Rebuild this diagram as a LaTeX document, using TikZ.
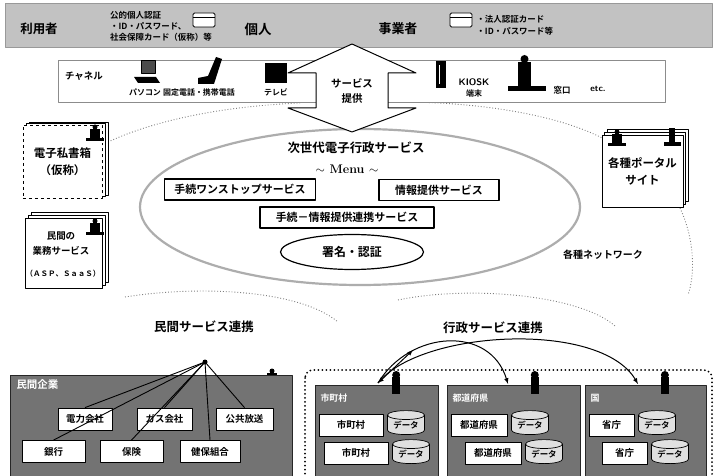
\documentclass[tikz,border=0pt]{standalone}
\usepackage{fontspec}
\newfontfamily\jp{Noto Sans CJK JP}[BoldFont={* Bold}]
\usetikzlibrary{shapes.geometric}

% bold Japanese at a given size / baselineskip
\newcommand{\jpsz}[2]{\jp\bfseries\fontsize{#1}{#2}\selectfont}

\begin{document}
\begin{tikzpicture}[x=1bp, y=-1bp, >=latex, line join=round,
  band/.style={fill=black!24, draw=black!40},
  menubox/.style={draw, line width=1.2pt, fill=white, font=\jpsz{11}{12}, minimum height=21bp, inner sep=2pt},
  unitbox/.style={draw, line width=0.8pt, fill=white, font=\jpsz{9.5}{10}, minimum height=22bp, inner sep=1pt},
  darkbox/.style={fill=black!55, draw=black!85, line width=0.8pt, inner sep=0pt},
  db/.style={cylinder, shape border rotate=90, aspect=0.35, draw, line width=0.7pt, fill=black!12,
    minimum width=37bp, minimum height=24bp, inner sep=0pt, font=\jpsz{8.5}{9}},
  net/.style={draw=black!50, dotted, line width=0.9pt},
  card/.style={draw, fill=white, line width=0.9pt, rounded corners=1.5bp, minimum width=22bp,
    minimum height=14bp, inner sep=0pt,
    path picture={\draw[line width=0.7pt] ([yshift=-4bp]path picture bounding box.north west)
      -- ([yshift=-4bp]path picture bounding box.north east);}},
  sheet/.style={draw, fill=white, line width=0.7pt}]

  \useasboundingbox (0,0) rectangle (718,476);
  \fill[white] (0,0) rectangle (718,476);

  % network area behind everything
  \draw[draw=black!32, line width=2.2pt] (360,207) ellipse [x radius=220, y radius=78];
  \draw[net] (108,142) .. controls (160,118) and (230,106) .. (300,103);
  \draw[net] (400,102) .. controls (480,102) and (560,115) .. (606,140);
  \draw[net] (680,208) .. controls (695,240) and (695,275) .. (688,295);
  \draw[net] (125,297) .. controls (200,285) and (300,290) .. (338,322);
  \draw[net] (398,300) .. controls (470,285) and (580,295) .. (615,326);

  % users band
  \draw[band] (5,3) rectangle (712,47);
  \node[font=\jpsz{12.5}{14}] (user) at (39,29) {利用者};
  \node[font=\jpsz{8.5}{11}, align=left] (idind) at (161,26) {公的個人認証\\・ID・パスワード、\\社会保障カード（仮称）等};
  \node[card] (cardA) at (204,20) {};
  \node[font=\jpsz{13.5}{14}] (kojin) at (258,29) {個人};
  \node[font=\jpsz{13}{14}] (jigyo) at (398,29) {事業者};
  \node[card] (cardB) at (461,20) {};
  \node[font=\jpsz{8.5}{12}, align=left, anchor=west] (idcorp) at (473,25) {・法人認証カード\\・ID・パスワード等};

  % channels
  \draw[draw=black!45, fill=white, line width=0.8pt] (58,60) rectangle (665,102);
  \node[font=\jpsz{9.5}{10}] (chan) at (84,76) {チャネル};
  \draw[line width=0.8pt, fill=black!70] (141,60) rectangle (155,73);
  \fill (134,77) -- (156,77) -- (160,83) -- (138,83) -- cycle;
  \node[font=\jpsz{8}{9}] (pc) at (145,92) {パソコン};
  \fill (198,84) -- (214,84) -- (222,59) -- (216,57) -- (208,76) -- (198,78) -- cycle;
  \node[font=\jpsz{8}{9}] (tel) at (199,92) {固定電話・携帯電話};
  \fill (265,63) rectangle (287,83);
  \node[font=\jpsz{8}{9}] (tv) at (276,92) {テレビ};
  \fill (436,61) rectangle (446,88);
  \draw[white, line width=0.8pt] (439,65) -- (439,84);
  \node[font=\sffamily\bfseries\fontsize{9.5}{10}\selectfont, inner sep=0pt] (kiosk) at (474,82) {KIOSK};
  \node[font=\jpsz{8}{8}] (kiosk2) at (474,93) {端末};
  \fill (518,62) rectangle (531,88);
  \fill (524.5,59) circle (4);
  \fill (508,86) rectangle (546,91);
  \node[font=\jpsz{8.5}{9}] (window) at (562,90) {窓口};
  \node[font=\sffamily\bfseries\fontsize{9}{9}\selectfont] (etc) at (598,89) {etc.};

  % service delivery arrow
  \draw[fill=white, line width=1pt] (352,44) -- (416,73) -- (388,73) -- (388,108) -- (416,108)
    -- (352,132) -- (288,108) -- (316,108) -- (316,73) -- (288,73) -- cycle;
  \node[font=\jpsz{10.5}{16}, align=center] (serv) at (352,91) {サービス\\提供};

  % menu of the next generation services
  \node[font=\jpsz{12.5}{13}] (title) at (356,148) {次世代電子行政サービス};
  \node[font=\bfseries\fontsize{12.5}{13}\selectfont] (menu) at (347,169) {$\sim$ Menu $\sim$};
  \node[menubox, minimum width=151bp] (onestop) at (240,189.5) {手続ワンストップサービス};
  \node[menubox, minimum width=120bp] (info) at (439,190) {情報提供サービス};
  \node[menubox, minimum width=174bp] (link) at (347,217.5) {手続－情報提供連携サービス};
  \node[ellipse, draw, line width=1.2pt, fill=white, minimum width=143bp, minimum height=35bp,
    font=\jpsz{12}{13}] (sign) at (352,252) {署名・認証};
  \node[font=\jpsz{10}{11}] (nets) at (603,255) {各種ネットワーク};

  % stacked sheets on both sides
  \foreach \d in {3,1.5} \draw[sheet] (23+2*\d,125-\d) rectangle (102+2*\d,198-\d);
  \node[draw, dashed, fill=white, line width=0.7pt, minimum width=79bp, minimum height=73bp,
    font=\jpsz{11.5}{17}, align=center] (mailbox) at (62.5,161.5) {電子私書箱\\（仮称）};
  \foreach \d in {6,3} \draw[sheet] (25+\d,218-\d) rectangle (102+\d,288-\d);
  \node[sheet, minimum width=77bp, minimum height=70bp] (asp) at (63.5,253) {};
  \node[font=\jpsz{9.5}{15}, align=center] (asp1) at (61,244) {民間の\\業務サービス};
  \node[font=\jpsz{7.5}{8}] (asp2) at (63,274) {（ＡＳＰ、ＳａａＳ）};
  \foreach \d in {5,2.5} \draw[sheet] (602+\d,135-1.2*\d) rectangle (683+\d,207-1.2*\d);
  \node[sheet, minimum width=81bp, minimum height=72bp, font=\jpsz{11.5}{17}, align=center] (portal) at (642.5,171) {各種ポータル\\サイト};

  % operator terminals
  \foreach \x/\y in {95/136, 95/230, 617/141, 272/380} {
    \fill (\x-9,\y+2) rectangle (\x+9,\y+5);
    \fill (\x-5,\y-7) rectangle (\x+5,\y+2);
    \fill (\x,\y-9) circle (2.5);
  }
  \fill (669,128) rectangle (675,144);
  \fill (664,142) rectangle (681,146);

  % private sector
  \node[font=\jpsz{12.5}{13}] (privlink) at (204,327) {民間サービス連携};
  \node[font=\jpsz{12.5}{13}] (govlink) at (493,328) {行政サービス連携};
  \node[darkbox, anchor=north west, minimum width=282bp, minimum height=105bp] (corp) at (10,375) {};
  \node[font=\jpsz{10.5}{11}, text=white, anchor=west] (corpt) at (13,385) {民間企業};
  \node[unitbox, minimum width=54bp] (den) at (85,419) {電力会社};
  \node[unitbox, minimum width=55bp] (gas) at (164.5,419) {ガス会社};
  \node[unitbox, minimum width=57bp] (nhk) at (244.5,419) {公共放送};
  \node[unitbox, minimum width=63bp] (bank) at (53.5,451.5) {銀行};
  \node[unitbox, minimum width=63bp] (ins) at (131.5,451.5) {保険};
  \node[unitbox, minimum width=60bp] (kenpo) at (210,451.5) {健保組合};
  \coordinate (hub) at (205,362);
  \foreach \b in {den,gas,nhk,bank,ins,kenpo}
    \draw[line width=0.9pt] (hub) -- (\b.north);
  \fill (hub) circle (2.5);

  % public sector
  \draw[line width=2pt, dash pattern=on 0pt off 4pt, line cap=round, rounded corners=8bp] (305,370) rectangle (712,495);
  \foreach \L/\R/\ttl/\unit/\nm/\bw/\s in {315/438/市町村/市町村/muni/64/5, 447/580/都道府県/都道府県/pref/56/14, 585/706/国/省庁/nat/45/13} {
    \pgfmathsetmacro\w{\R-\L}
    \pgfmathsetmacro\xa{\L+4+\bw/2}
    \pgfmathsetmacro\xb{\xa+\s}
    \pgfmathsetmacro\ca{\L+4+\bw+23}
    \pgfmathsetmacro\cb{\ca+\s}
    \pgfmathsetmacro\xi{\L+0.66*\w}
    \node[darkbox, anchor=north west, minimum width=\w bp, minimum height=100bp] (\nm) at (\L,385) {};
    \node[font=\jpsz{9}{10}, text=white, anchor=west] (\nm-t) at (\L+2,398) {\ttl};
    \fill (\xi-4,377) rectangle (\xi+4,394);
    \fill (\xi,375) circle (4);
    \node[unitbox, minimum width=\bw bp] (\nm-u1) at (\xa,425) {\unit};
    \node[unitbox, minimum width=\bw bp] (\nm-u2) at (\xb,453) {\unit};
    \node[db] (\nm-d1) at (\ca,425) {データ};
    \node[db] (\nm-d2) at (\cb,454) {データ};
  }

  % links between the administrations
  \coordinate (govhub) at (378,383);
  \coordinate (govout) at (413,350);
  \coordinate (prefin) at (508,384);
  \coordinate (natin) at (638,384);
  \draw[<->, line width=1pt] (govhub) -- (govout);
  \draw[->, line width=1pt] (govhub) .. controls (410,330) and (490,325) .. (prefin);
  \draw[->, line width=1pt] (govhub) .. controls (420,330) and (600,320) .. (natin);

\end{tikzpicture}
\end{document}
